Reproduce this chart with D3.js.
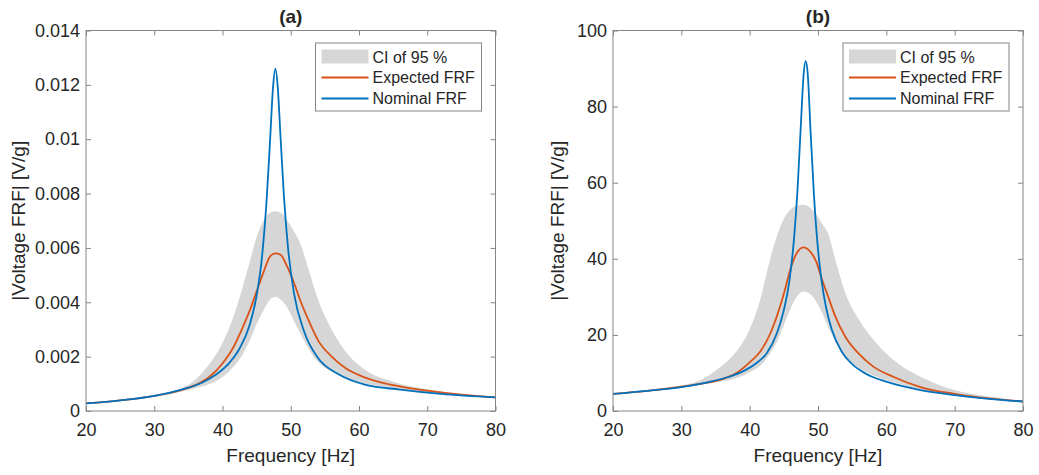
<!DOCTYPE html>
<html>
<head>
<meta charset="utf-8">
<script src="https://cdn.jsdelivr.net/npm/d3@7"></script>
<style>
  body { margin: 0; background: #fff; }
  svg { display: block; }
  text { font-family: "Liberation Sans", Arial, sans-serif; fill: #262626; }
</style>
</head>
<body>
<svg id="chart" width="1039" height="475"></svg>
<script>
// ---- data ----
const xTicks = [20, 30, 40, 50, 60, 70, 80];
const yTicksA = [0, 0.002, 0.004, 0.006, 0.008, 0.01, 0.012, 0.014];
const yTickLabelsA = ["0", "0.002", "0.004", "0.006", "0.008", "0.01", "0.012", "0.014"];
const yTicksB = [0, 20, 40, 60, 80, 100];
const yTickLabelsB = ["0", "20", "40", "60", "80", "100"];
const legendLabels = ["CI of 95 %", "Expected FRF", "Nominal FRF"];
const panelTitles = ["(a)", "(b)"];
const xLabel = "Frequency [Hz]";
const yLabel = "|Voltage FRF| [V/g]";

// panel (a): nominal FRF
const freqNomA = [20, 25, 30, 34, 37, 39, 41, 42.5, 44, 45, 45.8, 46.5, 47, 47.4, 47.75, 48.1, 48.5, 49, 49.6, 50.5, 52, 54, 57, 61, 66, 72, 80];
const nominalA = [0.00028, 0.00039, 0.00056, 0.00079, 0.00104, 0.00133, 0.00177, 0.0023, 0.00318, 0.00425, 0.0057, 0.0079, 0.0101, 0.0119, 0.0126, 0.0119, 0.0101, 0.0079, 0.0060, 0.0043, 0.0029, 0.00195, 0.00135, 0.00096, 0.00079, 0.00063, 0.0005];
// panel (a): expected FRF and 95 % bounds
const freqA = [20, 25, 30, 33, 36, 38, 40, 41.5, 43, 44, 45, 46, 47, 47.75, 48.5, 49.5, 50.5, 51.5, 52.5, 54, 56, 58, 61, 65, 70, 75, 80];
const expectedA = [0.00028, 0.00039, 0.00056, 0.0007, 0.00095, 0.00124, 0.00175, 0.0023, 0.0031, 0.0037, 0.0044, 0.0051, 0.0057, 0.0058, 0.00575, 0.0053, 0.0047, 0.0040, 0.0034, 0.0026, 0.0020, 0.00158, 0.00122, 0.00095, 0.00075, 0.0006, 0.0005];
const upperA = [0.00029, 0.0004, 0.00058, 0.00074, 0.00115, 0.0017, 0.0025, 0.0034, 0.0046, 0.0055, 0.0064, 0.0070, 0.0073, 0.00735, 0.0073, 0.0070, 0.0066, 0.0061, 0.0053, 0.0041, 0.0030, 0.0022, 0.0015, 0.00108, 0.0008, 0.00063, 0.00052];
const lowerA = [0.00027, 0.00037, 0.00053, 0.00066, 0.00084, 0.00098, 0.00125, 0.0016, 0.0021, 0.0026, 0.0032, 0.0037, 0.0041, 0.0042, 0.0041, 0.0038, 0.0033, 0.0028, 0.00235, 0.0018, 0.00145, 0.00122, 0.001, 0.00082, 0.00067, 0.00057, 0.00048];

// panel (b): nominal FRF
const freqNomB = [20, 25, 30, 34, 37, 39, 41, 42.5, 44, 45, 45.8, 46.5, 47, 47.5, 47.9, 48.2, 48.5, 48.9, 49.4, 49.9, 50.5, 51.2, 52, 53.5, 55, 57, 60, 65, 70, 75, 80];
const nominalB = [4.5, 5.3, 6.3, 7.6, 9.0, 10.4, 12.6, 15.2, 20.5, 26.5, 34, 45.5, 58, 75.5, 88.5, 92, 88.5, 74, 57, 44.5, 34.5, 27, 21.5, 15.5, 12.3, 9.8, 7.7, 5.5, 4.2, 3.2, 2.5];
// panel (b): expected FRF and 95 % bounds
const freqB = [20, 25, 30, 33, 36, 38, 40, 41.5, 43, 44, 45, 46, 47, 47.9, 48.8, 49.8, 50.5, 51.5, 52.5, 54, 56, 58, 61, 65, 70, 75, 80];
const expectedB = [4.5, 5.3, 6.4, 7.2, 8.4, 9.9, 12.8, 15.5, 20.3, 25, 30.8, 37.5, 41.8, 43, 42, 39, 35, 30, 25, 19.5, 15, 11.8, 9.0, 6.3, 4.5, 3.3, 2.5];
const upperB = [4.6, 5.5, 6.7, 8.3, 12, 15.5, 21.5, 29, 40, 46, 50.5, 53, 54, 54.2, 53.5, 51.5, 49.5, 46.5, 40, 31, 24, 19, 13.5, 9, 5.5, 3.8, 2.7];
const lowerB = [4.4, 5.1, 6.1, 6.9, 7.8, 8.6, 10.2, 11.8, 15.2, 18.2, 22.6, 27, 30.3, 31.4, 30.8, 28.6, 26.2, 22, 18.5, 14.3, 11.3, 9.4, 7.6, 5.6, 4.1, 3.1, 2.4];

// ---- styles ----
const colNominal = "#0072BD";
const colExpected = "#D95319";
const colBand = "#d6d6d6";
const colAxis = "#858585";

const svg = d3.select("#chart");

const panels = [
  { title: panelTitles[0], box: { l: 86, r: 495.5, t: 30.5, b: 411 }, yMax: 0.014,
    yTicks: yTicksA, yTickLabels: yTickLabelsA, yLabelX: 25,
    fNom: freqNomA, nom: nominalA, f: freqA, exp: expectedA, up: upperA, lo: lowerA },
  { title: panelTitles[1], box: { l: 613, r: 1023, t: 30.5, b: 411 }, yMax: 100,
    yTicks: yTicksB, yTickLabels: yTickLabelsB, yLabelX: 564,
    fNom: freqNomB, nom: nominalB, f: freqB, exp: expectedB, up: upperB, lo: lowerB }
];

panels.forEach((p, i) => {
  const { l, r, t, b } = p.box;
  const x = d3.scaleLinear().domain([20, 80]).range([l, r]);
  const y = d3.scaleLinear().domain([0, p.yMax]).range([b, t]);
  const g = svg.append("g");

  const clipId = "clip" + i;
  g.append("clipPath").attr("id", clipId)
    .append("rect").attr("x", l).attr("y", t).attr("width", r - l).attr("height", b - t);

  const plot = g.append("g").attr("clip-path", `url(#${clipId})`);

  const band = p.f.map((f, k) => ({ f, lo: p.lo[k], up: p.up[k] }));
  plot.append("path")
    .datum(band)
    .attr("fill", colBand)
    .attr("d", d3.area().curve(d3.curveMonotoneX)
      .x(d => x(d.f)).y0(d => y(d.lo)).y1(d => y(d.up)));

  const lineGen = d3.line().curve(d3.curveMonotoneX).x(d => x(d[0])).y(d => y(d[1]));
  plot.append("path")
    .datum(p.f.map((f, k) => [f, p.exp[k]]))
    .attr("fill", "none").attr("stroke", colExpected).attr("stroke-width", 1.8)
    .attr("d", lineGen);
  plot.append("path")
    .datum(p.fNom.map((f, k) => [f, p.nom[k]]))
    .attr("fill", "none").attr("stroke", colNominal).attr("stroke-width", 1.8)
    .attr("stroke-linejoin", "round")
    .attr("d", lineGen);

  // axes with inward ticks on all four sides
  const styleAxis = sel => {
    sel.select(".domain").remove();
    sel.selectAll(".tick line").attr("stroke", colAxis);
    sel.selectAll(".tick text").attr("fill", "#262626")
      .style("font-size", "18px").style("font-family", '"Liberation Sans", Arial, sans-serif');
  };
  g.append("g").attr("transform", `translate(0,${b})`)
    .call(d3.axisBottom(x).tickValues(xTicks).tickSizeInner(-5).tickSizeOuter(0).tickPadding(12).tickFormat(d3.format("d")))
    .call(styleAxis);
  g.append("g").attr("transform", `translate(0,${t})`)
    .call(d3.axisTop(x).tickValues(xTicks).tickSizeInner(-5).tickSizeOuter(0).tickFormat(""))
    .call(styleAxis);
  g.append("g").attr("transform", `translate(${l},0)`)
    .call(d3.axisLeft(y).tickValues(p.yTicks).tickSizeInner(-5).tickSizeOuter(0).tickPadding(6)
      .tickFormat((d, k) => p.yTickLabels[k]))
    .call(styleAxis);
  g.append("g").attr("transform", `translate(${r},0)`)
    .call(d3.axisRight(y).tickValues(p.yTicks).tickSizeInner(-5).tickSizeOuter(0).tickFormat(""))
    .call(styleAxis);

  g.append("rect").attr("x", l).attr("y", t).attr("width", r - l).attr("height", b - t)
    .attr("fill", "none").attr("stroke", colAxis).attr("stroke-width", 1);

  // labels
  g.append("text").attr("x", (l + r) / 2).attr("y", 23).attr("text-anchor", "middle")
    .style("font-size", "19px").style("font-weight", "bold").text(p.title);
  g.append("text").attr("x", (l + r) / 2).attr("y", 462).attr("text-anchor", "middle")
    .style("font-size", "19px").text(xLabel);
  g.append("text").attr("transform", `translate(${p.yLabelX},${(t + b) / 2}) rotate(-90)`)
    .attr("text-anchor", "middle").style("font-size", "19px").text(yLabel);

  // legend
  const lx = r - 180, ly = t + 12.5, lw = 166, lh = 68;
  const lg = g.append("g");
  lg.append("rect").attr("x", lx).attr("y", ly).attr("width", lw).attr("height", lh)
    .attr("fill", "#fff").attr("stroke", colAxis).attr("stroke-width", 1);
  const rowY = [ly + 14, ly + 34.5, ly + 55.5];
  lg.append("rect").attr("x", lx + 6).attr("y", rowY[0] - 7.5).attr("width", 47).attr("height", 14)
    .attr("fill", colBand);
  lg.append("line").attr("x1", lx + 6).attr("x2", lx + 53).attr("y1", rowY[1]).attr("y2", rowY[1])
    .attr("stroke", colExpected).attr("stroke-width", 1.8);
  lg.append("line").attr("x1", lx + 6).attr("x2", lx + 53).attr("y1", rowY[2]).attr("y2", rowY[2])
    .attr("stroke", colNominal).attr("stroke-width", 1.8);
  legendLabels.forEach((txt, k) => {
    lg.append("text").attr("x", lx + 57).attr("y", rowY[k] + 1.5)
      .attr("dominant-baseline", "middle").style("font-size", "16px").text(txt);
  });
});
</script>
</body>
</html>
